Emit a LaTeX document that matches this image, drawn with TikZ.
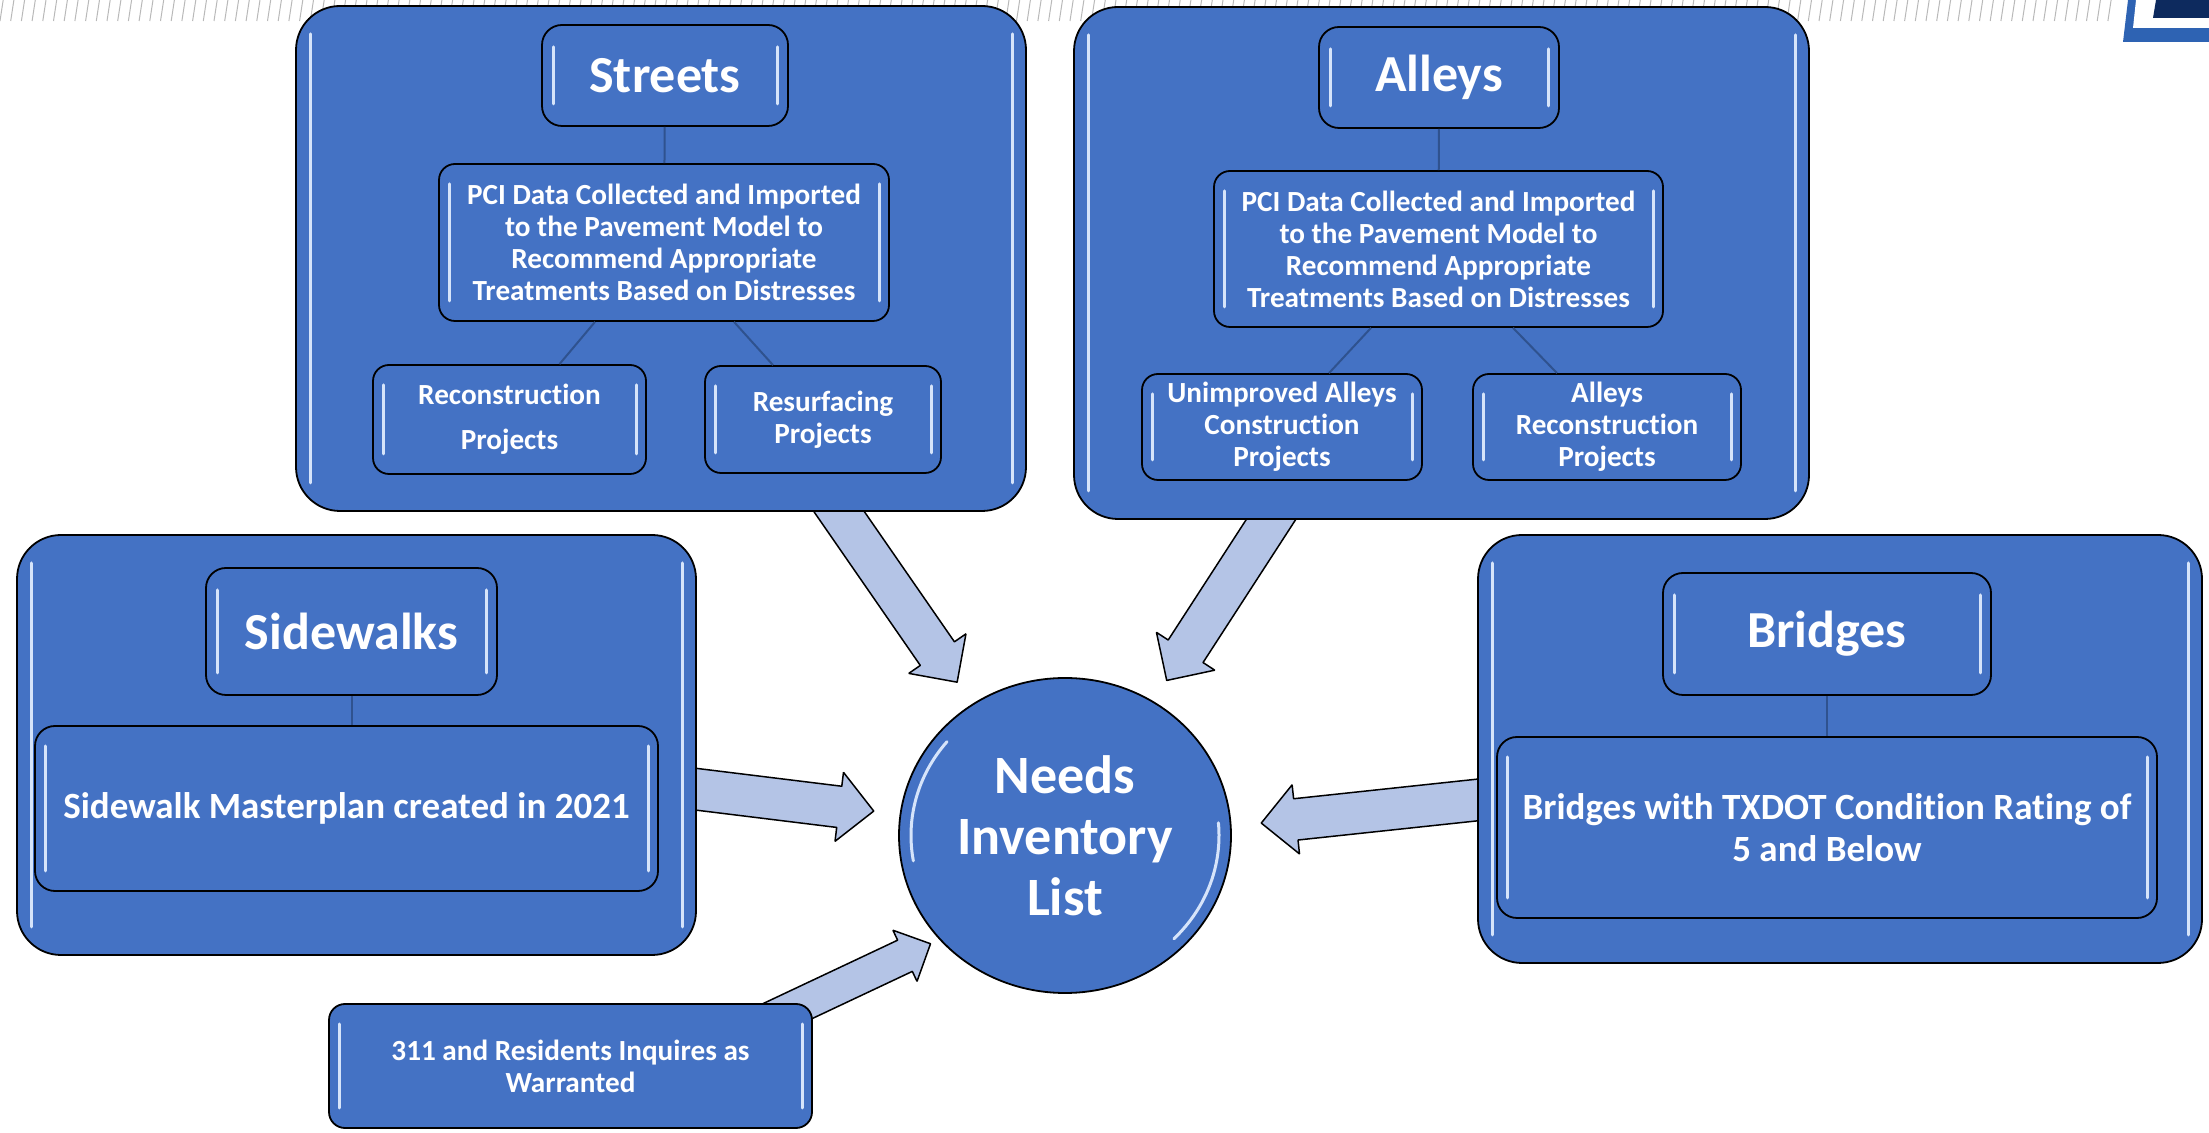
\documentclass[tikz,border=0pt]{standalone}
\usepackage{fontspec}
\setmainfont{Carlito}[Ligatures=NoCommon]
\usetikzlibrary{shapes.geometric,shapes.arrows,calc}
\definecolor{boxblue}{RGB}{68,114,196}
\definecolor{arrowblue}{RGB}{180,196,230}
\definecolor{linkblue}{RGB}{47,82,143}
\definecolor{glintblue}{RGB}{214,228,250}
\definecolor{logoblue}{RGB}{46,99,179}
\definecolor{logonavy}{RGB}{13,42,94}
\begin{document}
\begin{tikzpicture}[>=latex,line join=bevel,
  glint/.style={glintblue,line width=1.5bp,line cap=round},
  gloss/.style={path picture={
    \draw[glint] ([shift={(#1,-2*#1)}]path picture bounding box.north west) -- ([shift={(#1,2*#1)}]path picture bounding box.south west);
    \draw[glint] ([shift={(-#1,-2*#1)}]path picture bounding box.north east) -- ([shift={(-#1,2*#1)}]path picture bounding box.south east);}},
  orb_gloss/.style={path picture={
    \draw[glint] ([shift={(140:77bp and 73bp)}]path picture bounding box.center) arc[start angle=140,end angle=190,x radius=77bp,y radius=73bp];
    \draw[glint] ([shift={(-45:77bp and 73bp)}]path picture bounding box.center) arc[start angle=-45,end angle=5,x radius=77bp,y radius=73bp];}},
  panel/.style={draw=black,line width=0.9bp,fill=boxblue,text=white,rounded corners=#1,inner sep=0pt,align=center},
  outerbox/.style={panel=22bp,gloss=7bp},
  titlebox/.style={panel=10bp,gloss=5.5bp,font=\fontsize{26bp}{30bp}\selectfont\bfseries},
  smallbox/.style={panel=8bp,gloss=5bp,font=\fontsize{14.6bp}{16bp}\selectfont\bfseries},
  textbox/.style={panel=10bp,gloss=5bp,font=\fontsize{18.5bp}{21bp}\selectfont\bfseries},
  link_line/.style={linkblue,line width=1bp},
  fat_arrow/.style={single arrow,draw=black,line width=0.75bp,fill=arrowblue,inner xsep=0pt,single arrow tip angle=90,anchor=tail},
  hatch/.style={gray!55,line width=0.5bp},
]
%%
\useasboundingbox (0bp,0bp) rectangle (1104.5bp,566.5bp);
\fill[white] (0bp,0bp) rectangle (1104.5bp,566.5bp);
\foreach \i in {0,...,197} \draw[hatch] ({\i*5.35bp},556bp) -- ({\i*5.35bp+1.6bp},566.5bp);
\fill[logoblue] (1064bp,566.5bp) -- (1061.5bp,545.5bp) -- (1104.5bp,545.5bp) -- (1104.5bp,566.5bp) -- cycle;
\fill[white] (1068bp,566.5bp) -- (1066.5bp,552.5bp) -- (1104.5bp,552.5bp) -- (1104.5bp,566.5bp) -- cycle;
\fill[logonavy] (1078bp,566.5bp) -- (1076.5bp,557.5bp) -- (1104.5bp,557.5bp) -- (1104.5bp,566.5bp) -- cycle;
%
\coordinate (streets_tail) at (414.5bp,318bp);
  \coordinate (streets_tip) at (478.5bp,225.5bp);
  \coordinate (alleys_tail) at (641.5bp,316bp);
  \coordinate (alleys_tip) at (583.5bp,226.5bp);
  \coordinate (sidewalks_tail) at (339bp,173bp);
  \coordinate (sidewalks_tip) at (436.5bp,161bp);
  \coordinate (bridges_tail) at (748bp,167.5bp);
  \coordinate (bridges_tip) at (631bp,155bp);
  \coordinate (inquiries_tail) at (378bp,53.5bp);
  \coordinate (inquiries_tip) at (465bp,94.5bp);
\foreach \from/\to/\shaft/\extend in {streets_tail/streets_tip/10bp/7bp,alleys_tail/alleys_tip/10bp/7bp,sidewalks_tail/sidewalks_tip/10bp/7bp,bridges_tail/bridges_tip/10bp/7bp,inquiries_tail/inquiries_tip/8.25bp/5.5bp}
  \path let \p1=(\from), \p2=(\to), \n1={atan2(\y2-\y1,\x2-\x1)}, \n2={veclen(\x2-\x1,\y2-\y1)} in
    node (arrow_\from) at (\p1) [fat_arrow,inner ysep=\shaft,single arrow head extend=\extend,rotate=\n1,minimum height=\n2] {};
%
\node (streets_outer) at (330.5bp,437.25bp) [outerbox,minimum width=365bp,minimum height=252.5bp] {};
  \node (streets_title) at (332.5bp,528.75bp) [titlebox,minimum width=123bp,minimum height=50.5bp] {Streets};
  \node (streets_pci) at (332bp,445.25bp) [smallbox,minimum width=225bp,minimum height=78.5bp] {PCI Data Collected and Imported\\to the Pavement Model to\\Recommend Appropriate\\Treatments Based on Distresses};
  \node (streets_recon) at (254.75bp,356.75bp) [smallbox,minimum width=136.5bp,minimum height=54.5bp] {Reconstruction\\[6.5bp]Projects};
  \node (streets_resurf) at (411.5bp,356.75bp) [smallbox,minimum width=118bp,minimum height=53.5bp] {Resurfacing\\Projects};
\node (alleys_outer) at (720.75bp,435bp) [outerbox,minimum width=367.5bp,minimum height=256bp] {};
  \node (alleys_title) at (719.5bp,527.75bp) [titlebox,minimum width=120bp,minimum height=50.5bp] {Alleys};
  \node (alleys_pci) at (719.25bp,442bp) [smallbox,minimum width=224.5bp,minimum height=78bp] {PCI Data Collected and Imported\\to the Pavement Model to\\Recommend Appropriate\\Treatments Based on Distresses};
  \node (alleys_unimp) at (641bp,353bp) [smallbox,minimum width=140bp,minimum height=53bp] {Unimproved Alleys\\Construction\\Projects};
  \node (alleys_recon) at (803.5bp,353bp) [smallbox,minimum width=134bp,minimum height=53bp] {Alleys\\Reconstruction\\Projects};
\node (sidewalks_outer) at (178.25bp,194bp) [outerbox,minimum width=339.5bp,minimum height=210bp] {};
  \node (sidewalks_title) at (175.75bp,250.75bp) [titlebox,minimum width=145.5bp,minimum height=63.5bp] {Sidewalks};
  \node (sidewalks_plan) at (173.25bp,162.25bp) [textbox,minimum width=311.5bp,minimum height=82.5bp] {Sidewalk Masterplan created in 2021};
\node (bridges_outer) at (920bp,192bp) [outerbox,minimum width=362bp,minimum height=214bp] {};
  \node (bridges_title) at (913.5bp,249.5bp) [titlebox,minimum width=164bp,minimum height=61bp] {Bridges};
  \node (bridges_rating) at (913.5bp,152.75bp) [textbox,minimum width=330bp,minimum height=90.5bp] {Bridges with TXDOT Condition Rating of\\5 and Below};
\node (inquiries) at (285.25bp,33.5bp) [smallbox,minimum width=241.5bp,minimum height=62bp] {311 and Residents Inquires as\\Warranted};
\node (needs_list) at (532.5bp,148.75bp) [ellipse,draw=black,line width=0.9bp,fill=boxblue,text=white,minimum width=166bp,minimum height=157.5bp,inner sep=0pt,align=center,font=\fontsize{27bp}{30.5bp}\selectfont\bfseries,orb_gloss] {Needs\\Inventory\\List};
%
\draw [link_line] (streets_title) -- (streets_pci);
  \draw [link_line] ([xshift=-34.5bp]streets_pci.south) -- ([xshift=25bp]streets_recon.north);
  \draw [link_line] ([xshift=35bp]streets_pci.south) -- ([xshift=-25bp]streets_resurf.north);
  \draw [link_line] (alleys_title) -- (alleys_pci);
  \draw [link_line] ([xshift=-33.75bp]alleys_pci.south) -- ([xshift=23.5bp]alleys_unimp.north);
  \draw [link_line] ([xshift=37.25bp]alleys_pci.south) -- ([xshift=-25bp]alleys_recon.north);
  \draw [link_line] (sidewalks_title) -- (sidewalks_title |- sidewalks_plan.north);
  \draw [link_line] (bridges_title) -- (bridges_rating);
%
\end{tikzpicture}
\end{document}
